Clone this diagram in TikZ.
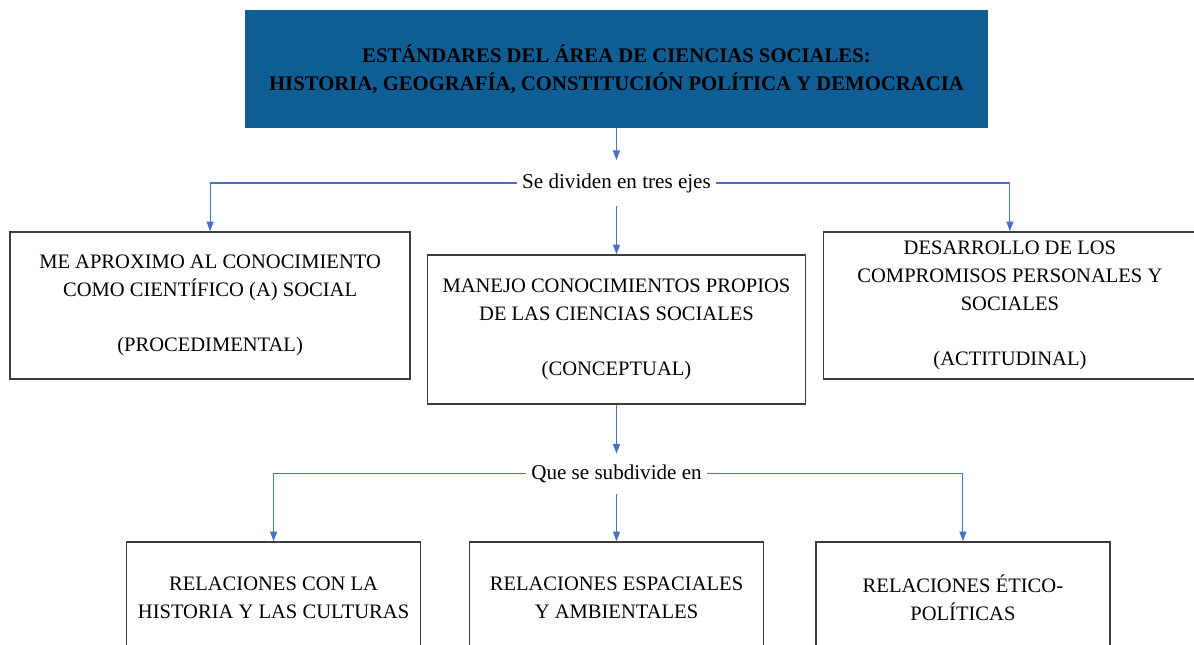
\documentclass[tikz,border=0pt]{standalone}
\usepackage{fontspec}
\setmainfont{Liberation Serif}
\usetikzlibrary{arrows.meta,positioning}
\definecolor{titleblue}{RGB}{16,94,150}
\definecolor{linkblue}{RGB}{68,114,196}
\definecolor{boxline}{RGB}{60,60,60}

\begin{document}
\begin{tikzpicture}[x=0.02cm, y=-0.02cm, >={Triangle[width=4pt,length=5.5pt]},
		link/.style={->, draw=linkblue, line width=0.6pt},
		axisbox/.style={draw=boxline, line width=0.8pt, align=center, inner sep=0pt,
			font=\fontsize{11.7}{15.8}\selectfont},
		splitter/.style={align=center, inner xsep=3pt, inner ysep=0pt,
			font=\fontsize{12}{14}\selectfont}]
		\clip (0,0) rectangle (1194,645);
		\node[fill=titleblue, minimum width=14.86cm, minimum height=2.36cm, align=center,
			font=\fontsize{11.8}{16}\selectfont\bfseries] (title) at (616.5,69)
			{ESTÁNDARES DEL ÁREA DE CIENCIAS SOCIALES:\\
			HISTORIA, GEOGRAFÍA, CONSTITUCIÓN POLÍTICA Y DEMOCRACIA};
		\node[splitter, minimum height=0.9cm] (ejes) [below of=title, node distance=2.28cm] {Se dividen en tres ejes};
		\node[axisbox, minimum width=7.56cm, minimum height=2.98cm] (conceptual) [below of=ejes, node distance=2.93cm]
			{MANEJO CONOCIMIENTOS PROPIOS\\ DE LAS CIENCIAS SOCIALES\\ \mbox{}\\ (CONCEPTUAL)};
		\node[axisbox, minimum width=8cm, minimum height=2.94cm] (procedimental) [below of=ejes, node distance=2.45cm, xshift=-8.13cm]
			{ME APROXIMO AL CONOCIMIENTO\\ COMO CIENTÍFICO (A) SOCIAL\\ \mbox{}\\ (PROCEDIMENTAL)};
		\node[axisbox, minimum width=7.45cm, minimum height=2.94cm] (actitudinal) [below of=ejes, node distance=2.45cm, xshift=7.87cm]
			{DESARROLLO DE LOS\\ COMPROMISOS PERSONALES Y\\ SOCIALES\\ \mbox{}\\ (ACTITUDINAL)};
		\node[splitter, minimum height=0.8cm] (sub) [below of=conceptual, node distance=2.89cm] {Que se subdivide en};
		\node[axisbox, minimum width=5.88cm, minimum height=2.24cm] (espaciales) [below of=sub, node distance=2.48cm]
			{RELACIONES ESPACIALES\\ Y AMBIENTALES};
		\node[axisbox, minimum width=5.88cm, minimum height=2.24cm] (historia) [below of=sub, node distance=2.48cm, xshift=-6.86cm]
			{RELACIONES CON LA\\ HISTORIA Y LAS CULTURAS};
		\node[axisbox, minimum width=5.88cm, minimum height=2.24cm] (eticas) [below of=sub, node distance=2.48cm, xshift=6.93cm]
			{RELACIONES ÉTICO-\\ POLÍTICAS};
		\draw[link] (title) -- (ejes);
		\draw[link] (ejes.west) -| (procedimental.north);
		\draw[link] (ejes.east) -| (actitudinal.north);
		\draw[link] (ejes) -- (conceptual);
		\draw[link] (conceptual) -- (sub);
		\draw[link] (sub.west) -| (historia.north);
		\draw[link] (sub.east) -| (eticas.north);
		\draw[link] (sub) -- (espaciales);
\end{tikzpicture}
\end{document}
